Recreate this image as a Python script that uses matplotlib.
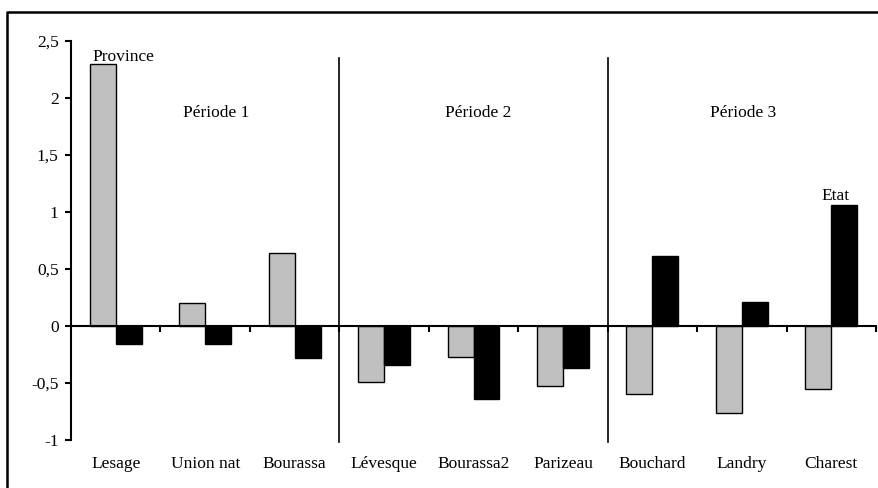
import numpy as np
import matplotlib.pyplot as plt
from matplotlib.lines import Line2D
from matplotlib.ticker import FuncFormatter

plt.rcParams['font.family'] = ['Liberation Serif', 'DejaVu Serif']

# Données
chefs = ['Lesage', 'Union nat', 'Bourassa', 'Lévesque', 'Bourassa2',
         'Parizeau', 'Bouchard', 'Landry', 'Charest']
province = [2.30, 0.20, 0.64, -0.49, -0.27, -0.53, -0.60, -0.76, -0.55]
etat = [-0.16, -0.16, -0.28, -0.34, -0.64, -0.37, 0.61, 0.21, 1.06]
periodes = ['Période 1', 'Période 2', 'Période 3']
periode_x = [1.12, 4.05, 7.01]
separateurs = [2.5, 5.5]

fs = 12.5

fig = plt.figure(figsize=(8.79, 4.88), dpi=100)
ax = fig.add_axes([0.0808, 0.0984, 0.9158, 0.8176])

x = np.arange(len(chefs))
w = 0.29
ax.bar(x - w / 2, province, w, color='#c0c0c0', edgecolor='black', linewidth=1)
ax.bar(x + w / 2, etat, w, color='black', edgecolor='black', linewidth=1)

ax.set_xlim(-0.5, 8.5)
ax.set_ylim(-1, 2.5)
ax.set_yticks(np.arange(-1, 2.51, 0.5))
ax.yaxis.set_major_formatter(FuncFormatter(lambda v, p: ('%g' % v).replace('.', ',')))
ax.tick_params(axis='y', direction='out', length=4, width=1.5, labelsize=fs, pad=5)

# axe horizontal au niveau zéro, graduations entre les catégories
ax.spines['bottom'].set_position(('data', 0))
ax.spines['bottom'].set_linewidth(1.5)
ax.spines['left'].set_linewidth(1.5)
ax.spines['top'].set_visible(False)
ax.spines['right'].set_visible(False)
ax.set_xticks(np.arange(0.5, 9, 1))
ax.tick_params(axis='x', direction='out', length=4, width=1.5, labelbottom=False)

for xs in separateurs:
    ax.plot([xs, xs], [-1.02, 2.35], color='black', linewidth=1.2, clip_on=False)

for xi, nom in zip(x, chefs):
    ax.text(xi, -1.21, nom, ha='center', va='center', fontsize=fs)

for xp, p in zip(periode_x, periodes):
    ax.text(xp, 1.87, p, ha='center', va='center', fontsize=fs)

ax.text(-0.26, 2.29, 'Province', ha='left', va='bottom', fontsize=fs)
ax.text(8.05, 1.07, 'Etat', ha='center', va='bottom', fontsize=fs)

# cadre (coupé à droite et en bas)
fig.lines.append(Line2D([7 / 879, 7 / 879, 1], [0, 1 - 12 / 488, 1 - 12 / 488],
                        transform=fig.transFigure, color='black', linewidth=1.8))

plt.savefig('out.png', dpi=100)
